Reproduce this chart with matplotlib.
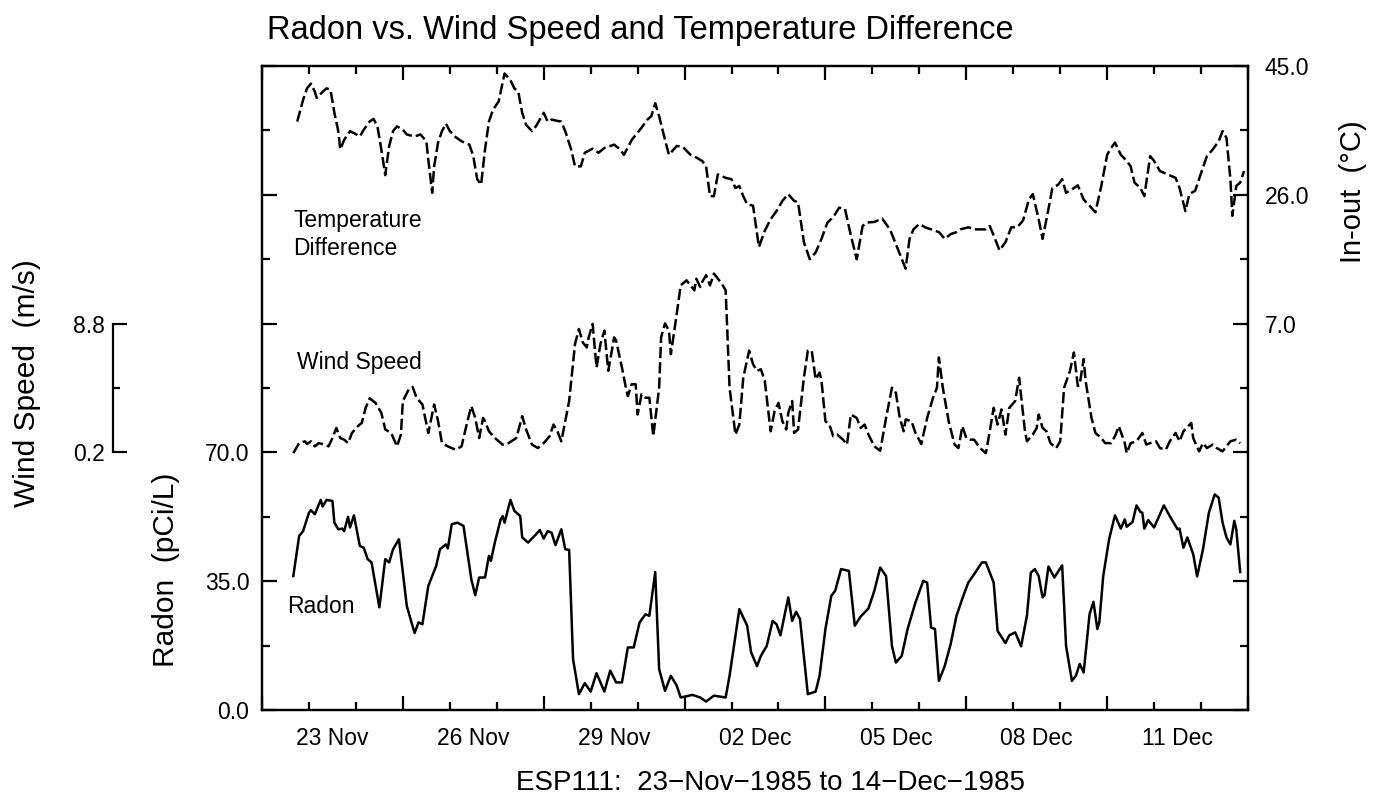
import matplotlib
matplotlib.use("Agg")
import matplotlib.pyplot as plt
import matplotlib.dates as mdates
from matplotlib.ticker import FixedLocator, NullFormatter, FixedFormatter
from datetime import datetime, timedelta

plt.rcParams['font.family'] = ['Liberation Sans', 'DejaVu Sans']

# ---------------- data (hours since 22-Nov-1985 00:00) ----------------
START = datetime(1985, 11, 22)
END = datetime(1985, 12, 13)

radon_hours = [16, 19, 21, 24, 25, 27, 30, 31, 33, 36,
               37, 39, 41, 42, 44, 45, 47, 50, 52, 54,
               56, 60, 63, 65, 67, 70, 74, 78, 80, 82,
               85, 89, 91, 94, 95, 97, 100, 103, 105, 107,
               109, 111, 114, 116, 117, 119, 122, 123, 124, 127,
               129, 132, 133, 136, 140, 142, 144, 146, 148, 150,
               153, 155, 157, 159, 162, 165, 168, 171, 175, 178,
               181, 184, 187, 190, 193, 196, 198, 201, 203, 206,
               209, 212, 214, 220, 224, 227, 231, 237, 239, 244,
               248, 250, 253, 255, 258, 261, 263, 265, 269, 271,
               273, 275, 279, 283, 285, 288, 291, 293, 296, 300,
               303, 306, 310, 313, 316, 319, 322, 324, 327, 330,
               334, 338, 340, 342, 344, 346, 349, 352, 355, 358,
               361, 364, 368, 370, 374, 376, 380, 382, 385, 388,
               391, 393, 395, 397, 399, 400, 402, 405, 409, 411,
               414, 416, 418, 420, 423, 425, 427, 428, 430, 433,
               436, 439, 441, 442, 445, 447, 449, 450, 451, 453,
               456, 461, 464, 468, 469, 471, 473, 476, 478, 481,
               484, 487, 489, 491, 493, 495, 497, 498, 500]
radon_pci = [36.4, 47.3, 48.6, 53.6, 54.3, 53.2, 57.1, 55.3, 57.1, 56.8,
             50.9, 49.1, 49.3, 48.6, 52.5, 49.6, 52.9, 44.6, 44.1, 41.0,
             40.1, 27.9, 41.0, 40.1, 43.7, 46.4, 28.3, 20.9, 23.8, 23.3,
             33.7, 39.1, 43.7, 45.0, 43.9, 50.5, 50.9, 50.0, 42.8, 35.5,
             31.2, 36.0, 36.0, 41.9, 40.5, 45.5, 51.8, 52.7, 50.9, 57.1,
             54.1, 52.7, 46.9, 45.5, 47.7, 48.9, 46.6, 48.6, 48.2, 44.8,
             49.1, 43.7, 43.5, 13.8, 4.3, 7.3, 5.0, 10.0, 5.0, 10.7,
             7.5, 7.5, 17.0, 17.0, 23.8, 26.0, 25.6, 37.5, 11.1, 5.2,
             9.3, 6.6, 3.4, 4.1, 3.4, 2.3, 3.9, 3.4, 9.3, 27.4,
             22.9, 15.7, 11.9, 14.7, 17.4, 24.2, 23.3, 20.3, 30.6, 24.2,
             26.7, 24.7, 4.3, 5.0, 9.3, 22.0, 31.0, 32.4, 38.3, 37.8,
             22.9, 25.4, 27.6, 32.4, 38.7, 36.4, 17.4, 12.9, 14.7, 22.0,
             29.2, 35.1, 34.6, 22.4, 22.0, 7.9, 12.0, 17.9, 25.6, 30.3,
             34.6, 36.9, 40.1, 40.1, 34.6, 21.5, 18.2, 20.3, 21.1, 17.3,
             25.6, 37.3, 38.3, 36.4, 30.6, 31.2, 39.0, 36.0, 39.3, 17.4,
             7.9, 9.3, 12.5, 10.2, 26.0, 29.4, 22.0, 23.8, 36.4, 46.4,
             52.9, 49.3, 51.8, 49.8, 51.1, 55.6, 53.8, 53.6, 49.3, 51.6,
             49.6, 55.6, 52.7, 49.1, 49.3, 44.1, 46.9, 42.3, 36.3, 43.7,
             53.6, 58.6, 57.7, 50.9, 46.9, 45.0, 51.4, 49.1, 37.5]

wind_hours = [16, 19, 22, 23, 25, 27, 29, 32, 34, 36,
              38, 40, 42, 44, 46, 49, 51, 53, 55, 58,
              61, 63, 66, 69, 71, 72, 75, 77, 79, 82,
              85, 88, 90, 92, 95, 99, 102, 105, 107, 109,
              111, 113, 114, 116, 119, 123, 126, 130, 133, 135,
              138, 141, 144, 147, 149, 151, 153, 157, 160, 162,
              164, 166, 167, 169, 171, 173, 175, 177, 180, 181,
              184, 186, 187, 189, 191, 192, 194, 196, 198, 200,
              203, 204, 206, 208, 209, 212, 214, 217, 219, 221,
              222, 224, 225, 227, 229, 231, 233, 235, 237, 239,
              242, 244, 246, 249, 251, 253, 255, 257, 260, 262,
              264, 266, 268, 269, 271, 272, 274, 277, 279, 281,
              283, 285, 286, 288, 290, 292, 294, 297, 299, 301,
              304, 306, 308, 310, 313, 316, 319, 322, 324, 326,
              328, 329, 332, 334, 337, 340, 343, 345, 346, 348,
              351, 354, 356, 358, 360, 362, 364, 367, 370, 372,
              374, 376, 378, 380, 382, 385, 387, 390, 391, 394,
              396, 397, 399, 401, 403, 406, 408, 410, 413, 415,
              417, 418, 420, 421, 424, 426, 429, 431, 434, 436,
              438, 441, 442, 444, 447, 450, 452, 454, 457, 459,
              462, 464, 467, 469, 471, 475, 476, 479, 481, 483,
              486, 488, 491, 493, 495, 498, 500]
wind_ms = [0.15, 0.82, 0.94, 0.76, 0.94, 0.60, 0.82, 0.72, 0.60, 1.16,
           1.83, 1.16, 1.05, 0.82, 1.50, 1.95, 2.17, 3.18, 3.81, 3.51,
           2.84, 1.73, 1.50, 0.60, 1.39, 3.63, 4.41, 4.57, 3.85, 3.40,
           1.50, 3.40, 2.28, 0.82, 0.60, 0.38, 0.60, 2.28, 3.29, 2.50,
           1.16, 2.50, 2.28, 1.61, 1.16, 0.72, 0.82, 1.16, 2.62, 1.73,
           0.72, 0.49, 0.82, 1.28, 2.06, 1.61, 0.94, 3.63, 7.44, 8.44,
           7.54, 7.21, 7.88, 8.78, 5.86, 7.44, 8.33, 5.64, 7.88, 7.66,
           5.86, 4.52, 3.96, 4.75, 4.75, 2.73, 4.08, 3.85, 3.85, 1.28,
           4.52, 7.88, 8.82, 8.33, 6.76, 9.45, 11.35, 11.69, 11.35, 11.02,
           11.80, 11.24, 11.58, 12.03, 11.35, 12.14, 11.80, 11.47, 11.02, 4.52,
           1.39, 2.06, 5.19, 6.99, 6.09, 5.64, 5.75, 4.97, 1.61, 2.95,
           3.51, 2.28, 1.73, 2.84, 3.63, 1.50, 1.73, 5.19, 6.99, 6.99,
           5.08, 5.53, 4.97, 2.28, 2.06, 1.28, 1.39, 1.05, 0.72, 2.73,
           2.50, 1.83, 2.06, 1.39, 0.60, 0.31, 2.50, 4.52, 4.18, 2.50,
           1.61, 2.40, 2.28, 1.50, 0.76, 2.50, 3.85, 4.52, 6.54, 4.52,
           2.28, 0.72, 0.49, 1.95, 1.16, 1.05, 1.05, 0.49, 0.15, 1.61,
           3.18, 2.06, 3.07, 1.39, 3.18, 3.63, 5.19, 1.61, 0.94, 1.39,
           1.83, 2.73, 1.83, 1.61, 0.82, 0.49, 0.94, 4.52, 5.64, 6.87,
           4.63, 4.75, 6.43, 4.97, 2.50, 1.50, 1.16, 0.82, 0.82, 1.28,
           1.95, 0.82, 0.15, 0.82, 0.94, 1.50, 0.72, 0.82, 0.94, 0.49,
           0.38, 0.94, 1.50, 0.94, 1.61, 2.17, 1.16, 0.27, 0.82, 0.49,
           0.72, 0.49, 0.27, 0.60, 0.94, 1.05, 0.82]

temp_hours = [18, 21, 23, 25, 27, 28, 31, 33, 35, 37,
              39, 40, 42, 45, 47, 50, 52, 55, 57, 59,
              61, 63, 65, 67, 69, 72, 74, 78, 81, 84,
              85, 87, 88, 90, 92, 94, 96, 99, 102, 106,
              108, 110, 112, 114, 116, 118, 121, 123, 124, 127,
              129, 131, 133, 135, 138, 140, 142, 144, 146, 148,
              151, 153, 155, 158, 160, 163, 165, 169, 172, 175,
              180, 183, 185, 189, 194, 197, 199, 201, 203, 206,
              208, 212, 215, 219, 222, 225, 227, 229, 231, 233,
              237, 240, 242, 244, 246, 248, 251, 254, 257, 260,
              263, 266, 269, 272, 274, 277, 280, 283, 286, 289,
              292, 295, 298, 301, 304, 307, 309, 313, 317, 321,
              325, 329, 331, 333, 336, 339, 343, 346, 349, 352,
              355, 357, 361, 365, 370, 372, 374, 377, 380, 383,
              386, 389, 392, 394, 397, 399, 402, 404, 407, 409,
              411, 414, 417, 420, 423, 426, 429, 432, 434, 436,
              439, 442, 444, 446, 449, 451, 454, 456, 459, 463,
              467, 469, 472, 474, 477, 480, 483, 486, 489, 491,
              493, 495, 496, 498, 500, 502]
temp_diff = [36.8, 40.0, 41.7, 42.4, 41.2, 40.3, 41.2, 41.7, 41.5, 38.1,
             35.4, 32.7, 34.1, 35.4, 35.1, 34.6, 35.6, 36.8, 37.2, 36.1,
             32.7, 28.9, 33.2, 35.4, 36.1, 35.6, 34.9, 34.6, 34.9, 33.9,
             31.2, 26.3, 30.2, 33.7, 35.4, 36.5, 35.4, 34.5, 33.9, 33.4,
             31.7, 28.3, 27.5, 32.7, 36.8, 38.5, 39.8, 42.5, 43.9, 42.9,
             41.7, 41.2, 38.1, 36.3, 35.4, 36.1, 37.1, 38.1, 36.8, 37.1,
             36.9, 36.8, 35.4, 32.7, 30.2, 30.2, 32.2, 32.8, 32.2, 32.9,
             33.4, 32.7, 31.9, 34.1, 35.9, 37.1, 37.6, 39.5, 37.6, 34.1,
             31.9, 33.2, 33.1, 31.9, 31.5, 31.0, 30.2, 25.8, 25.8, 29.0,
             28.5, 28.3, 27.0, 27.3, 25.8, 24.6, 24.4, 18.3, 20.7, 22.4,
             23.6, 25.1, 26.1, 25.1, 24.9, 19.0, 16.5, 17.5, 19.5, 21.9,
             22.7, 24.1, 23.9, 20.0, 16.5, 21.4, 21.9, 22.0, 22.5, 20.9,
             18.0, 15.1, 19.5, 20.9, 21.7, 21.2, 20.8, 20.5, 19.5, 20.2,
             20.5, 20.9, 21.2, 20.9, 20.9, 21.4, 20.0, 17.8, 19.0, 21.2,
             21.2, 22.2, 25.3, 26.1, 22.4, 19.5, 23.9, 27.0, 27.5, 28.3,
             26.3, 26.8, 27.4, 25.3, 24.4, 23.4, 27.3, 31.9, 32.9, 33.7,
             31.9, 31.0, 30.2, 27.8, 27.0, 25.8, 31.7, 31.0, 29.5, 29.0,
             28.5, 27.0, 23.6, 26.1, 26.6, 29.2, 31.7, 32.7, 33.9, 35.4,
             34.4, 28.3, 22.9, 27.3, 27.8, 29.5]

date_labels = ['23 Nov', '26 Nov', '29 Nov', '02 Dec', '05 Dec', '08 Dec', '11 Dec']
label_days = [datetime(1985, 11, 23), datetime(1985, 11, 26), datetime(1985, 11, 29),
              datetime(1985, 12, 2), datetime(1985, 12, 5), datetime(1985, 12, 8),
              datetime(1985, 12, 11)]

assert len(radon_hours) == len(radon_pci)
assert len(wind_hours) == len(wind_ms)
assert len(temp_hours) == len(temp_diff)


def to_dates(hours):
    return mdates.date2num([START + timedelta(hours=h) for h in hours])


# ---------------- layout ----------------
W, H = 1387, 809
fig = plt.figure(figsize=(W / 100, H / 100), dpi=100)
L, R, T, B = 262, 1248, 66, 710
ax = fig.add_axes([L / W, 1 - B / H, (R - L) / W, (B - T) / H])
ax_t = ax.twinx()
ax_w = ax.twinx()

LW = 1.8
SPW = 1.6
ink = 'black'

# radon (left scale)
ax.plot(to_dates(radon_hours), radon_pci, color=ink, lw=LW, solid_joinstyle='round')
ax.set_ylim(0, 175)
ax.set_xlim(mdates.date2num(START), mdates.date2num(END))

# temperature difference (right scale)
lt, = ax_t.plot(to_dates(temp_hours), temp_diff, color=ink, lw=LW)
lt.set_dashes((4.5, 1.6))
ax_t.set_ylim(-50, 45)

# wind speed (bracket scale on far left)
lw_, = ax_w.plot(to_dates(wind_hours), wind_ms, color=ink, lw=LW)
lw_.set_dashes((4.5, 1.6))
ax_w.set_ylim(-17.0, 26.0)

for a in (ax, ax_t, ax_w):
    for s in a.spines.values():
        s.set_linewidth(SPW)

# x ticks: day ticks, longer every 3 days, labels at noon
ax.xaxis.set_major_locator(FixedLocator(
    mdates.date2num([START + timedelta(days=3 * k) for k in range(8)])))
ax.xaxis.set_minor_locator(FixedLocator(
    mdates.date2num([START + timedelta(days=k) for k in range(22)])))
ax.xaxis.set_major_formatter(NullFormatter())
ax.xaxis.set_minor_formatter(NullFormatter())
ax.tick_params(axis='x', which='both', direction='in', top=True, bottom=True, width=SPW)
ax.tick_params(axis='x', which='major', length=10)
ax.tick_params(axis='x', which='minor', length=5.5)
for d, lab in zip(label_days, date_labels):
    ax.text(mdates.date2num(d + timedelta(hours=12)), -0.0545, lab,
            transform=ax.get_xaxis_transform(), ha='center', va='baseline',
            fontsize=16.5)

# left (radon) ticks
ax.yaxis.set_major_locator(FixedLocator([0, 35, 70, 105, 140, 175]))
ax.yaxis.set_major_formatter(FixedFormatter(['0.0', '35.0', '70.0', '', '', '']))
ax.yaxis.set_minor_locator(FixedLocator([17.5, 52.5, 87.5, 122.5, 157.5]))
ax.tick_params(axis='y', which='both', direction='in', left=True, right=False,
               width=SPW, labelsize=16.5, pad=9)
ax.tick_params(axis='y', which='major', length=11)
ax.tick_params(axis='y', which='minor', length=5.8)

# right (temperature) ticks
ax_t.yaxis.set_major_locator(FixedLocator([-50, -31, -12, 7, 26, 45]))
ax_t.yaxis.set_major_formatter(FixedFormatter(['', '', '', '7.0', '26.0', '45.0']))
ax_t.yaxis.set_minor_locator(FixedLocator([-40.5, -21.5, -2.5, 16.5, 35.5]))
ax_t.tick_params(axis='y', which='both', direction='in', right=True, left=False,
                 width=SPW, labelsize=16.5, pad=12)
ax_t.tick_params(axis='y', which='major', length=11)
ax_t.tick_params(axis='y', which='minor', length=5.8)

# wind bracket axis
for k in ('right', 'top', 'bottom'):
    ax_w.spines[k].set_visible(False)
ax_w.spines['left'].set_visible(True)
ax_w.spines['left'].set_position(('outward', (L - 113) * 0.72))
ax_w.spines['left'].set_bounds(0.2, 8.8)
ax_w.yaxis.set_ticks_position('left')
ax_w.yaxis.set_major_locator(FixedLocator([0.2, 8.8]))
ax_w.yaxis.set_major_formatter(FixedFormatter(['0.2', '8.8']))
ax_w.yaxis.set_minor_locator(FixedLocator([4.5]))
ax_w.tick_params(axis='y', which='both', direction='in', width=SPW,
                 labelsize=16.5, pad=6)
ax_w.tick_params(axis='y', which='major', length=10)
ax_w.tick_params(axis='y', which='minor', length=5)


def P(x, y):
    return (x / W, 1 - y / H)


# axis titles
fig.text(*P(166, 570), 'Radon  (pCi/L)', rotation=90, ha='center', va='center', fontsize=21.5)
fig.text(*P(27, 383), 'Wind Speed  (m/s)', rotation=90, ha='center', va='center', fontsize=21.5)
fig.text(*P(1353, 192), 'In-out  (°C)', rotation=90, ha='center', va='center', fontsize=21)

# series annotations
fig.text(*P(293, 227), 'Temperature', ha='left', va='baseline', fontsize=16.5)
fig.text(*P(293, 255), 'Difference', ha='left', va='baseline', fontsize=16.5)
fig.text(*P(297, 369), 'Wind Speed', ha='left', va='baseline', fontsize=16.5)
fig.text(*P(287, 613), 'Radon', ha='left', va='baseline', fontsize=16.5)

# title and footer
fig.text(*P(640, 30), 'Radon vs. Wind Speed and Temperature Difference',
         ha='center', va='center', fontsize=23.5)
fig.text(*P(770, 783), 'ESP111:  23\u2212Nov\u22121985 to 14\u2212Dec\u22121985',
         ha='center', va='center', fontsize=20)

fig.savefig('out.png', dpi=100)
